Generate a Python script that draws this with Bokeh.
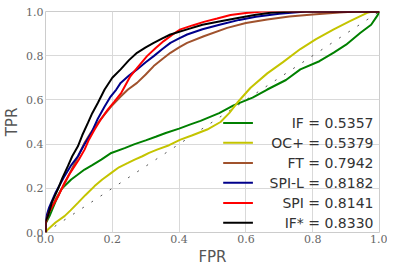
from bokeh.plotting import figure
from bokeh.models import Range1d, Label, FixedTicker, CustomJSTickFormatter
from bokeh.embed import file_html
from bokeh.resources import INLINE

# ---- data ----
if_x = [0, 0.0, 0.012, 0.03, 0.047, 0.06, 0.077, 0.095, 0.117, 0.14, 0.167, 0.197, 0.237, 0.267, 0.3, 0.33, 0.36, 0.40, 0.434, 0.464, 0.52, 0.563, 0.62, 0.664, 0.72, 0.763, 0.82, 0.863, 0.90, 0.943, 0.975, 0.993, 1.0]
if_y = [0, 0.04, 0.074, 0.14, 0.195, 0.215, 0.24, 0.26, 0.285, 0.305, 0.33, 0.36, 0.382, 0.40, 0.417, 0.433, 0.45, 0.47, 0.489, 0.505, 0.54, 0.575, 0.61, 0.647, 0.69, 0.738, 0.775, 0.814, 0.85, 0.904, 0.94, 0.98, 1.0]

oc_x = [0, 0.007, 0.03, 0.057, 0.075, 0.097, 0.12, 0.147, 0.17, 0.197, 0.22, 0.247, 0.267, 0.29, 0.31, 0.334, 0.37, 0.404, 0.44, 0.484, 0.524, 0.55, 0.574, 0.614, 0.664, 0.71, 0.763, 0.81, 0.863, 0.91, 0.963, 0.98, 1.0]
oc_y = [0, 0.014, 0.045, 0.074, 0.10, 0.134, 0.17, 0.21, 0.24, 0.27, 0.295, 0.315, 0.33, 0.345, 0.36, 0.375, 0.395, 0.42, 0.44, 0.466, 0.50, 0.54, 0.587, 0.655, 0.72, 0.77, 0.83, 0.875, 0.919, 0.955, 0.994, 1.0, 1.0]

ft_x = [0, 0.0, 0.01, 0.03, 0.05, 0.07, 0.09, 0.117, 0.135, 0.157, 0.177, 0.197, 0.225, 0.247, 0.274, 0.3, 0.324, 0.35, 0.374, 0.4, 0.424, 0.474, 0.544, 0.6, 0.664, 0.73, 0.80, 0.88, 0.93, 1.0]
ft_y = [0, 0.05, 0.09, 0.15, 0.2, 0.26, 0.32, 0.406, 0.45, 0.496, 0.535, 0.571, 0.615, 0.647, 0.677, 0.715, 0.753, 0.785, 0.813, 0.838, 0.858, 0.888, 0.926, 0.948, 0.964, 0.977, 0.986, 0.995, 1.0, 1.0]

spil_x = [0, 0.0, 0.01, 0.03, 0.055, 0.075, 0.097, 0.115, 0.137, 0.155, 0.177, 0.195, 0.212, 0.225, 0.25, 0.274, 0.3, 0.324, 0.35, 0.374, 0.4, 0.424, 0.47, 0.524, 0.58, 0.63, 0.70, 0.78, 1.0]
spil_y = [0, 0.06, 0.11, 0.18, 0.25, 0.30, 0.345, 0.395, 0.45, 0.51, 0.57, 0.615, 0.647, 0.677, 0.71, 0.738, 0.77, 0.798, 0.83, 0.858, 0.878, 0.896, 0.92, 0.941, 0.962, 0.976, 0.99, 1.0, 1.0]

spi_x = [0, 0.0, 0.01, 0.027, 0.04, 0.057, 0.07, 0.087, 0.1, 0.117, 0.13, 0.147, 0.165, 0.187, 0.205, 0.227, 0.254, 0.28, 0.304, 0.33, 0.354, 0.38, 0.404, 0.44, 0.474, 0.514, 0.554, 0.6, 0.65, 1.0]
spi_y = [0, 0.04, 0.09, 0.135, 0.17, 0.225, 0.26, 0.30, 0.33, 0.375, 0.42, 0.466, 0.51, 0.557, 0.59, 0.632, 0.707, 0.755, 0.798, 0.835, 0.866, 0.895, 0.919, 0.937, 0.953, 0.968, 0.984, 0.993, 1.0, 1.0]

ifs_x = [0, 0.0, 0.007, 0.02, 0.037, 0.05, 0.067, 0.08, 0.097, 0.11, 0.127, 0.14, 0.157, 0.177, 0.2, 0.225, 0.25, 0.274, 0.3, 0.324, 0.35, 0.374, 0.424, 0.47, 0.524, 0.58, 0.63, 0.674, 0.74, 0.80, 1.0]
ifs_y = [0, 0.05, 0.074, 0.14, 0.195, 0.245, 0.30, 0.345, 0.39, 0.44, 0.496, 0.54, 0.587, 0.647, 0.70, 0.738, 0.78, 0.813, 0.838, 0.858, 0.878, 0.896, 0.919, 0.94, 0.956, 0.972, 0.985, 0.994, 1.0, 1.0, 1.0]

diag_x = [0, 1]
diag_y = [0, 1]

labels = ["IF = 0.5357", "OC+ = 0.5379", "FT = 0.7942", "SPI-L = 0.8182", "SPI = 0.8141", "IF* = 0.8330"]
colors = ["#008000", "#c4c400", "#a0522d", "#00008b", "#ff0000", "#000000"]
ticks = [0.0, 0.2, 0.4, 0.6, 0.8, 1.0]

series = [(if_x, if_y), (oc_x, oc_y), (ft_x, ft_y), (spil_x, spil_y), (spi_x, spi_y), (ifs_x, ifs_y)]

p = figure(frame_width=334, frame_height=221, output_backend="svg", toolbar_location=None,
           x_range=Range1d(0, 1), y_range=Range1d(0, 1),
           min_border_left=30, min_border_top=11, min_border_right=8, min_border_bottom=30)
p.background_fill_color = "white"
p.border_fill_color = "white"
p.outline_line_color = "#cccccc"
p.outline_line_width = 1

for ax in (p.xaxis[0], p.yaxis[0]):
    ax.ticker = FixedTicker(ticks=ticks)
    ax.axis_line_color = None
    ax.major_tick_line_color = None
    ax.minor_tick_line_color = None
    ax.major_tick_out = 0
    ax.major_tick_in = 0
    ax.minor_tick_out = 0
    ax.minor_tick_in = 0
    ax.major_label_text_font = "DejaVu Serif"
    ax.major_label_text_font_size = "11px"
    ax.major_label_text_color = "#666666"
    ax.axis_label_text_font = "DejaVu Sans"
    ax.axis_label_text_font_size = "15px"
    ax.axis_label_text_font_style = "normal"
    ax.axis_label_text_color = "#555555"
    ax.major_label_standoff = 2
    ax.axis_label_standoff = 2
    ax.formatter = CustomJSTickFormatter(code="return tick.toFixed(1);")
p.xaxis.axis_label = "FPR"
p.yaxis.axis_label = "TPR"
p.grid.grid_line_color = "#d9d9d9"
p.grid.grid_line_width = 1

p.line(diag_x, diag_y, line_color="#555555", line_width=1, line_dash="2 9")

for (xs, ys), c in zip(series, colors):
    p.line(xs, ys, line_color=c, line_width=2)

# legend (right-aligned labels, line samples to the left)
row_y = [0.496, 0.406, 0.315, 0.225, 0.134, 0.044]
for lab, c, yy in zip(labels, colors, row_y):
    p.line([0.532, 0.621], [yy, yy], line_color=c, line_width=2)
    p.add_layout(Label(x=0.982, y=yy, text=lab, text_align="right", text_baseline="middle",
                       text_font="DejaVu Sans", text_font_size="14px", text_color="#333333"))

open("out.html", "w").write(file_html(p, INLINE))
